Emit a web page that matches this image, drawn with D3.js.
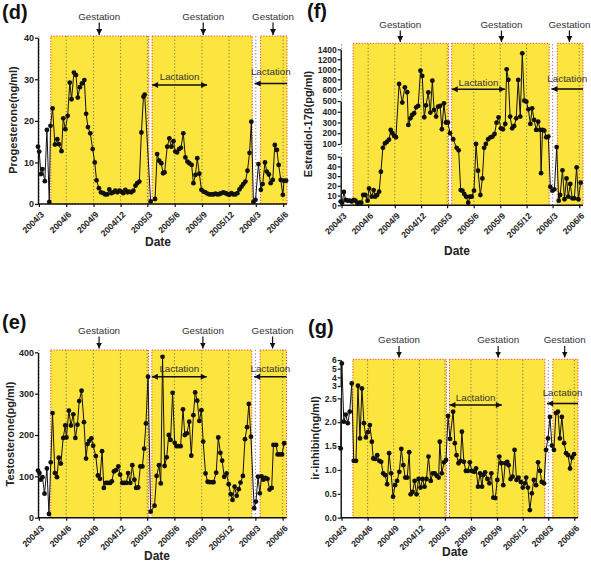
<!DOCTYPE html>
<html><head><meta charset="utf-8">
<script src="https://cdn.jsdelivr.net/npm/d3@7"></script>
<style>
body{margin:0;background:#fff;}
svg{display:block;font-family:"Liberation Sans",Arial,Helvetica,sans-serif;}
</style></head><body>
<svg id="c" width="591" height="577"></svg>
<script>
// ---------- data ----------
const tickLabels = ["2004/3","2004/6","2004/9","2004/12","2005/3","2005/6","2005/9","2005/12","2006/3","2006/6"];
// days counted from 2004/3/1
const yellowSpans = [[40,370],[381,718],[746,835]];
const gestationDays = [203,553,788];
const lactation1 = [381,566];
const lactation2 = [726,835];

const progTicks = [0,10,20,30,40];
const progDays = [-3,1,7,12,20,27,35,39,46,54,62,67,76,82,89,97,104,110,118,125,131,138,145,153,159,165,173,181,188,194,202,209,217,223,230,237,244,250,257,264,271,277,284,291,298,304,311,318,325,331,338,345,352,356,376,391,398,405,412,418,423,432,439,446,453,459,465,472,478,486,493,500,506,514,520,527,533,540,547,554,560,567,574,581,587,594,601,608,614,621,628,634,641,648,655,661,668,675,682,688,695,702,709,715,722,729,739,747,753,761,767,774,780,787,794,801,807,814,821,825,832];
const progVals = [13.8,12.6,7.2,8.4,5.5,17.8,0.5,18.8,23,14.3,15.6,14.4,12.7,20.6,18,21.2,29.2,25.2,31.6,31,25.6,28.1,29,29.8,21.7,18.5,17,13.2,10,5.7,3.8,2.8,2.6,2.3,2.3,3.5,2.6,2.8,3.2,2.8,3.2,3.0,2.6,3.4,2.8,3.0,2.8,3.2,4.4,5.0,5.4,17.2,25.8,26.3,0.6,1.2,12,10.4,9.8,7.4,7.6,13.8,15.8,13.8,15.1,12.6,12.4,13.2,13.5,17,11.2,10.2,9.8,9.4,5,7,11,7.3,3.4,3.0,2.8,2.5,2.3,2.3,2.3,2.5,2.3,2.4,2.6,2.8,2.6,2.4,2.2,2.6,2.3,2.3,2.6,3.5,4.2,4.8,5.4,8.0,12.3,19.8,0.5,1.0,9.6,3.4,4.8,10,7.8,7.1,5,5.8,14.2,13,9.4,5.8,2.2,5.6,5.6];

const testTicks = [0,100,200,300,400];
const testDays = [-3,2,6,12,19,27,34,40,46,54,61,67,74,82,89,93,101,108,116,123,130,136,144,152,159,164,170,177,183,192,199,206,213,219,226,233,240,246,253,260,268,274,281,288,295,301,308,315,322,328,335,342,349,355,361,368,377,390,397,405,411,417,424,431,438,444,451,458,464,471,478,486,492,499,507,514,521,527,534,541,548,554,562,569,576,584,589,598,605,612,618,625,633,640,647,653,660,667,674,680,688,695,702,708,715,726,732,739,745,751,757,764,771,778,785,791,800,805,813,820,827];
const testVals = [114,108,92,98,58,119,9,134,253,108,98,145,131,193,223,194,259,223,250,193,225,282,307,231,143,178,186,192,174,149,102,94,161,72,84,84,84,88,112,115,124,104,84,84,84,108,84,127,92,72,73,124,124,167,228,341,14.5,29,101,127,83,389,125,146,200,188,302,181,173,173,173,262,200,204,232,150,248,303,283,234,260,184,107,87,86,86,86,109,194,157,138,99,107,81,57,43,75,53,69,85,101,190,219,275,196,23,39,99,59,100,92,96,94,68,72,176,176,153,153,153,180];

const estBreaks = [0,50,100,500,600,1400];
const estTicksLow = [0,10,20,30,40,50];
const estTicksMid = [100,200,300,400,500];
const estTicksHigh = [600,800,1000,1200,1400];
const estDays = [-3,2,8,14,21,29,35,42,48,55,61,68,75,82,90,95,104,111,116,123,130,136,143,150,157,164,170,176,182,188,199,210,219,227,231,238,244,251,258,265,273,279,286,292,300,307,314,320,327,334,341,347,354,361,368,375,386,398,405,412,418,424,431,438,444,450,458,465,472,480,487,493,499,507,515,522,529,536,543,551,558,566,571,577,583,590,597,604,611,618,625,632,639,646,653,659,666,673,680,687,690,695,701,708,715,722,729,736,744,751,756,764,771,778,784,791,798,805,813,819,827];
const estVals = [3.8,2.7,13.7,5.5,4.8,4.8,3.8,5.5,4.8,1.4,2.7,2.7,10.6,10.6,4.8,17.4,8.9,15.7,8.9,10.6,14,34.5,85,105,120,140,230,200,175,163,707,485,640,575,277,339,370,386,441,454,973,867,349,460,573,392,773,417,355,447,455,237,478,300,300,200,144,85,75,15.7,15,11.6,8.9,2.7,8.9,8.9,15,100,35.6,10.6,27.7,85,100,144,162,169,193,298,348,246,237,286,1000,790,355,246,268,339,787,355,1320,503,494,423,287,432,324,231,308,231,33,231,225,163,169,19,15,16.4,88,4.8,10.6,36,6.2,27.7,8.9,21.9,7.2,7.2,39,6.2,23.3];

const inhBreaks = [0,2.5,3,6];
const inhTicksLow = [0,0.5,1,1.5,2,2.5];
const inhTicksHigh = [3,4,5,6];
const inhDays = [-3,1,8,15,22,29,36,43,51,58,65,72,79,86,93,100,107,112,119,126,133,140,147,154,161,168,175,182,189,196,204,211,218,225,232,239,244,251,258,265,272,279,286,293,300,307,315,322,329,336,343,347,354,362,369,376,383,394,400,406,413,420,425,432,439,446,453,460,468,475,482,489,496,500,507,515,522,529,536,543,550,557,564,571,578,585,590,597,604,611,618,625,633,640,647,652,658,665,672,679,687,694,701,707,715,722,729,736,743,750,757,764,771,778,786,793,800,807,814,821];
const inhVals = [1.45,5.6,2.01,2.16,1.98,2.22,3.3,1.19,1.19,3.03,1.66,2.9,1.98,1.68,1.79,1.94,1.59,1.24,1.23,1.31,1.19,1.17,0.93,0.89,0.70,1.35,0.93,0.44,0.68,0.77,0.96,1.44,1.10,0.84,0.84,1.37,0.49,0.54,0.77,0.49,0.81,0.63,0.81,0.65,0.81,1.28,0.77,0.93,0.93,0.88,0.84,1.59,0.93,1.16,1.21,2.13,1.65,2.22,1.56,1.31,1.14,1.19,1.80,1.17,0.98,0.98,1.16,0.98,0.96,1.03,0.65,0.93,0.65,0.89,0.95,0.81,0.72,0.93,0.42,0.41,0.79,1.28,1.14,0.68,1.14,1.17,1.10,0.81,0.86,1.42,0.79,0.84,0.75,0.63,0.72,0.84,0.63,0.16,0.51,0.79,0.68,1.16,0.98,0.75,0.72,1.42,1.66,2.11,1.51,1.42,2.19,2.22,1.66,2.11,1.56,1.35,1.31,1.03,1.26,1.33];

// ---------- layout ----------
const base = new Date(2004,2,1);
const toDate = d => d3.timeDay.offset(base, d);
const xDomain = [toDate(-3), toDate(835)];
const tickDates = tickLabels.map(s => { const [y,m] = s.split("/").map(Number); return new Date(y, m-1, 1); });

const panels = [
  {label:"(d)", lx:2, ly:19, days:progDays, vals:progVals,
   yDom:[0,40], yRng:[204,37.7], segs:[{t:progTicks, f:d3.format("d")}],
   x0:38, x1:287, yellowTop:36, title:"Progesterone(ng/ml)", tx:13, ty:120, dateX:158, dateY:246,
   gT:19.5, gA:[22.5,35], l1T:79.5, l1A:85, l2T:75, l2A:83.5, tickFs:9},
  {label:"(f)", lx:307, ly:18, days:estDays, vals:estVals,
   yDom:estBreaks, yRng:[205.3,156.7,144,101,89.3,49.3],
   segs:[{t:estTicksLow, f:d3.format("d")},{t:estTicksMid, f:d3.format("d")},{t:estTicksHigh, f:d3.format("d")}],
   x0:340.7, x1:583, yellowTop:43.3, title:"Estradiol-17β(pg/ml)", tx:308, ty:124, dateX:457, dateY:255,
   gT:27.5, gA:[30.5,42], l1T:86, l1A:89.3, l2T:81.5, l2A:89, tickFs:8.5},
  {label:"(e)", lx:2, ly:329, days:testDays, vals:testVals,
   yDom:[0,400], yRng:[517.7,352.3], segs:[{t:testTicks, f:d3.format("d")}],
   x0:38, x1:286.5, yellowTop:350, title:"Testosterone(pg/ml)", tx:10, ty:434, dateX:157, dateY:560,
   gT:333.5, gA:[336.5,348.5], l1T:372, l1A:376.7, l2T:372, l2A:376.7, tickFs:9},
  {label:"(g)", lx:308, ly:334, days:inhDays, vals:inhVals,
   yDom:inhBreaks, yRng:[517.7,398.3,386,360],
   segs:[{t:inhTicksLow, f:d3.format(".1f")},{t:inhTicksHigh, f:d3.format("d")}],
   x0:340.7, x1:578, yellowTop:359.3, title:"ir-inhibin(ng/ml)", tx:315, ty:438, dateX:455, dateY:556,
   gT:343, gA:[346,357.5], l1T:400.5, l1A:405, l2T:395.5, l2A:403.5, tickFs:8.5}
];

const svg = d3.select("#c");
const defs = svg.append("defs");
defs.append("marker").attr("id","ahS").attr("viewBox","0 0 10 10").attr("refX",10).attr("refY",5)
  .attr("markerUnits","userSpaceOnUse").attr("markerWidth",6).attr("markerHeight",6).attr("orient","auto-start-reverse")
  .append("path").attr("d","M0,0L10,5L0,10z").attr("fill","#111");
defs.append("marker").attr("id","ahL").attr("viewBox","0 0 10 10").attr("refX",10).attr("refY",5)
  .attr("markerUnits","userSpaceOnUse").attr("markerWidth",7).attr("markerHeight",6).attr("orient","auto-start-reverse")
  .append("path").attr("d","M0,0L10,5L0,10z").attr("fill","#111");

const YELLOW = "#fde53f";

panels.forEach(p => {
  const g = svg.append("g");
  const x = d3.scaleTime().domain(xDomain).range([p.x0, p.x1]);
  const y = d3.scaleLinear().domain(p.yDom).range(p.yRng);
  const axisY = p.yRng[0];

  // yellow phases
  yellowSpans.forEach(s => {
    const xa = x(toDate(s[0])), xb = x(toDate(s[1]));
    g.append("rect").attr("x",xa).attr("y",p.yellowTop).attr("width",xb-xa).attr("height",axisY-p.yellowTop)
      .attr("fill",YELLOW).attr("stroke","#e8412f").attr("stroke-width",1).attr("stroke-dasharray","1.2,1.6");
  });
  // quarterly dotted grid
  tickDates.forEach(t => {
    g.append("line").attr("x1",x(t)).attr("x2",x(t)).attr("y1",axisY).attr("y2",p.yellowTop)
      .attr("stroke","#6a6a55").attr("stroke-width",0.9).attr("stroke-dasharray","1.2,2.2");
  });

  // series
  const pts = p.days.map((d,i) => ({d:toDate(d), v:p.vals[i]}));
  g.append("path").datum(pts)
    .attr("d", d3.line().x(o => x(o.d)).y(o => y(o.v)))
    .attr("fill","none").attr("stroke","#111").attr("stroke-width",1);
  g.selectAll("circle.pt").data(pts).join("circle").attr("class","pt")
    .attr("cx", o => x(o.d)).attr("cy", o => y(o.v)).attr("r",2.4).attr("fill","#111");

  // x axis
  const xa = d3.axisBottom(x).tickValues(tickDates).tickSize(3).tickFormat((d,i) => tickLabels[i]);
  const gx = g.append("g").attr("transform",`translate(0,${axisY})`).call(xa);
  gx.select(".domain").attr("stroke","#111").attr("stroke-width",1.4).attr("d",`M${p.x0},0H${p.x1}`);
  gx.selectAll(".tick line").attr("stroke","#111").attr("stroke-width",1.2);
  gx.selectAll(".tick text").attr("font-size",8.6).attr("font-weight","bold").attr("fill","#222")
    .attr("text-anchor","end").attr("y",0).attr("dy","0.35em")
    .attr("transform","translate(3,9) rotate(-45)");

  // y axis (possibly broken)
  p.segs.forEach(sg => {
    const lo = sg.t[0], hi = sg.t[sg.t.length-1];
    const ys = d3.scaleLinear().domain([lo,hi]).range([y(lo), y(hi)]);
    const gy = g.append("g").attr("transform",`translate(${p.x0},0)`)
      .call(d3.axisLeft(ys).tickValues(sg.t).tickFormat(sg.f).tickSize(3).tickSizeOuter(0));
    gy.select(".domain").attr("stroke","#111").attr("stroke-width",1.4);
    gy.selectAll(".tick line").attr("stroke","#111").attr("stroke-width",1.2);
    gy.selectAll(".tick text").attr("font-size",p.tickFs).attr("font-weight","bold").attr("fill","#222").attr("x",-4);
  });

  // titles
  g.append("text").attr("x",p.lx).attr("y",p.ly).attr("font-size",20).attr("font-weight","bold").attr("fill","#111").text(p.label);
  g.append("text").attr("transform",`translate(${p.tx},${p.ty}) rotate(-90)`).attr("text-anchor","middle")
    .attr("dominant-baseline","central").attr("font-size",11).attr("font-weight","bold").attr("fill","#222").text(p.title);
  g.append("text").attr("x",p.dateX).attr("y",p.dateY).attr("text-anchor","middle").attr("font-size",12)
    .attr("font-weight","bold").attr("fill","#222").text("Date");

  // gestation arrows
  gestationDays.forEach(d => {
    const gx0 = x(toDate(d));
    g.append("text").attr("x",gx0).attr("y",p.gT).attr("text-anchor","middle").attr("font-size",9.8).attr("fill","#333").text("Gestation");
    g.append("line").attr("x1",gx0).attr("x2",gx0).attr("y1",p.gA[0]).attr("y2",p.gA[1])
      .attr("stroke","#111").attr("stroke-width",1.2).attr("marker-end","url(#ahS)");
  });
  // lactation arrows
  const la = x(toDate(lactation1[0])), lb = x(toDate(lactation1[1]));
  g.append("line").attr("x1",la).attr("x2",lb).attr("y1",p.l1A).attr("y2",p.l1A)
    .attr("stroke","#111").attr("stroke-width",1.6).attr("marker-start","url(#ahL)").attr("marker-end","url(#ahL)");
  g.append("text").attr("x",(la+lb)/2).attr("y",p.l1T).attr("text-anchor","middle").attr("font-size",9.8).attr("fill","#333").text("Lactation");
  const lc = x(toDate(lactation2[0])), ld = x(toDate(lactation2[1]));
  g.append("line").attr("x1",ld).attr("x2",lc).attr("y1",p.l2A).attr("y2",p.l2A)
    .attr("stroke","#111").attr("stroke-width",1.6).attr("marker-end","url(#ahL)");
  g.append("text").attr("x",(lc+ld)/2).attr("y",p.l2T).attr("text-anchor","middle").attr("font-size",9.8).attr("fill","#333").text("Lactation");
});
</script>
</body></html>
